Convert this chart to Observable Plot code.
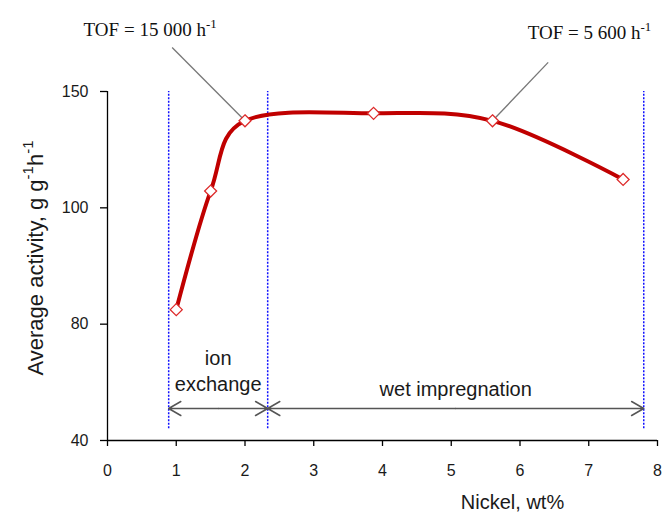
<!DOCTYPE html>
<html><head><meta charset="utf-8">
<script src="https://cdn.jsdelivr.net/npm/d3@7"></script>
<script src="https://cdn.jsdelivr.net/npm/@observablehq/plot@0.6"></script>
<style>
body{margin:0;background:#fff;}
#chart{width:662px;height:512px;}
</style></head><body><div id="chart"></div>
<script>
// ---- data ----
const nickel = [1.0, 1.5, 2.0, 3.87, 5.6, 7.5];
const activity = [82.5, 107.2, 137.4, 140.6, 137.4, 112.2];
const yTicks = [40, 80, 100, 150];
const xTicks = [0, 1, 2, 3, 4, 5, 6, 7, 8];
const regionBounds = [0.89, 2.33, 7.8];
const regionLabels = ["ion\nexchange", "wet impregnation"];
const arrowLevel = 51;
const boundaryBottom = 44;
const tofLabels = ["TOF = 15 000 h^{-1}", "TOF = 5 600 h^{-1}"];
const tofLabelX = [0.62, 7.01];
const tofLabelY = [176.5, 175];
const tofLineX = [0.94, 6.41];
const tofLineY = [168.9, 162.5];
const tofPointIndex = [2, 4];
const xLabel = "Nickel, wt%";
const yLabel = "Average activity, g g^{-1}h^{-1}";

// the value axis is piecewise: each labelled tick is equally spaced
const yIdx = d3.scaleLinear().domain(yTicks).range(yTicks.map((d, i) => i));
const pts = nickel.map((x, i) => ({x, y: yIdx(activity[i])}));
const regions = regionLabels.map((t, i) => ({
  t, x1: regionBounds[i], x2: regionBounds[i + 1],
  mid: (regionBounds[i] + regionBounds[i + 1]) / 2
}));
const arrows = regions.flatMap(r => [{a: r.mid, b: r.x1}, {a: r.mid, b: r.x2}]);
const tof = tofLabels.map((t, i) => ({
  t, x: tofLabelX[i], y: yIdx(tofLabelY[i]),
  lx: tofLineX[i], ly: yIdx(tofLineY[i]),
  px: nickel[tofPointIndex[i]], py: yIdx(activity[tofPointIndex[i]])
}));
const ay = yIdx(arrowLevel);

const sans = "'Liberation Sans', Arial, sans-serif";
const serif = "'Liberation Serif', 'Times New Roman', serif";

const chart = Plot.plot({
  width: 662, height: 512,
  marginLeft: 107, marginRight: 5, marginTop: 91, marginBottom: 72,
  style: {fontFamily: sans, fontSize: "16px", color: "#1a1a1a", background: "#fff"},
  x: {domain: [0, 8]},
  y: {domain: [0, 3]},
  marks: [
    Plot.ruleX(regionBounds, {y1: yIdx(boundaryBottom), y2: 3, stroke: "#1010ff", strokeWidth: 1.5, strokeDasharray: "2,1.5"}),
    Plot.axisX({ticks: xTicks, tickSize: 6, tickPadding: 18, label: null, stroke: "#000", strokeWidth: 1.3, fill: "#1a1a1a", fontSize: 16}),
    Plot.axisY({ticks: yTicks.map((d, i) => i), tickSize: 7, tickPadding: 12, tickFormat: i => yTicks[i], label: null, stroke: "#000", strokeWidth: 1.3, fill: "#1a1a1a", fontSize: 16}),
    Plot.ruleY([0], {stroke: "#000", strokeWidth: 1.3}),
    Plot.ruleX([0], {stroke: "#000", strokeWidth: 1.3}),
    Plot.arrow(arrows, {x1: "a", x2: "b", y1: ay, y2: ay, stroke: "#555", strokeWidth: 1.5, headLength: 14, headAngle: 60}),
    Plot.text([regions[0]], {x: "mid", y: ay, text: "t", lineAnchor: "bottom", dy: -18, fontSize: 20, lineHeight: 1.3, fill: "#1a1a1a"}),
    Plot.text([regions[1]], {x: "mid", y: ay, text: "t", lineAnchor: "bottom", dy: -13, fontSize: 20, fill: "#1a1a1a"}),
    Plot.link(tof, {x1: "lx", y1: "ly", x2: "px", y2: "py", stroke: "#777", strokeWidth: 1.3}),
    Plot.line(pts, {x: "x", y: "y", curve: "cardinal", stroke: "#c00000", strokeWidth: 4}),
    Plot.dot(pts, {x: "x", y: "y", symbol: "diamond2", r: 5.4, fill: "white", stroke: "#dd2a2a", strokeWidth: 1.3}),
    Plot.text(tof, {x: "x", y: "y", text: "t", fontFamily: serif, fontSize: 19, fill: "#111"}),
    Plot.text([xLabel], {text: d => d, frameAnchor: "bottom", lineAnchor: "middle", dx: 130, dy: 62, fontSize: 20, fill: "#1a1a1a"}),
    Plot.text([yLabel], {text: d => d, frameAnchor: "left", textAnchor: "middle", rotate: -90, dx: -72, dy: -8, fontSize: 22, fill: "#1a1a1a"})
  ]
});
document.getElementById("chart").appendChild(chart);

// make sure the tick labels use the larger size
chart.querySelectorAll("g").forEach(g => {
  const a = g.getAttribute("aria-label") || "";
  if (a.includes("tick label")) {
    g.setAttribute("font-size", "16");
    g.querySelectorAll("text").forEach(t => { t.setAttribute("font-size", "16"); t.style.fontSize = "16px"; });
  }
});

// superscripts: "^{...}" -> raised, smaller tspan
const svgns = "http://www.w3.org/2000/svg";
chart.querySelectorAll("text").forEach(el => {
  const s = el.textContent;
  if (!s.includes("^{")) return;
  const fs = parseFloat(getComputedStyle(el).fontSize);
  const parts = s.split(/\^\{([^}]*)\}/);
  el.textContent = "";
  const shift = fs * 0.42;
  parts.forEach((p, i) => {
    if (p === "") return;
    const t = document.createElementNS(svgns, "tspan");
    t.textContent = p;
    if (i % 2 === 1) {
      t.setAttribute("font-size", (fs * 0.68).toFixed(1));
      t.setAttribute("dy", (-shift).toFixed(1));
    } else if (i > 0) {
      t.setAttribute("dy", shift.toFixed(1));
    }
    el.appendChild(t);
  });
});
</script>
</body></html>
